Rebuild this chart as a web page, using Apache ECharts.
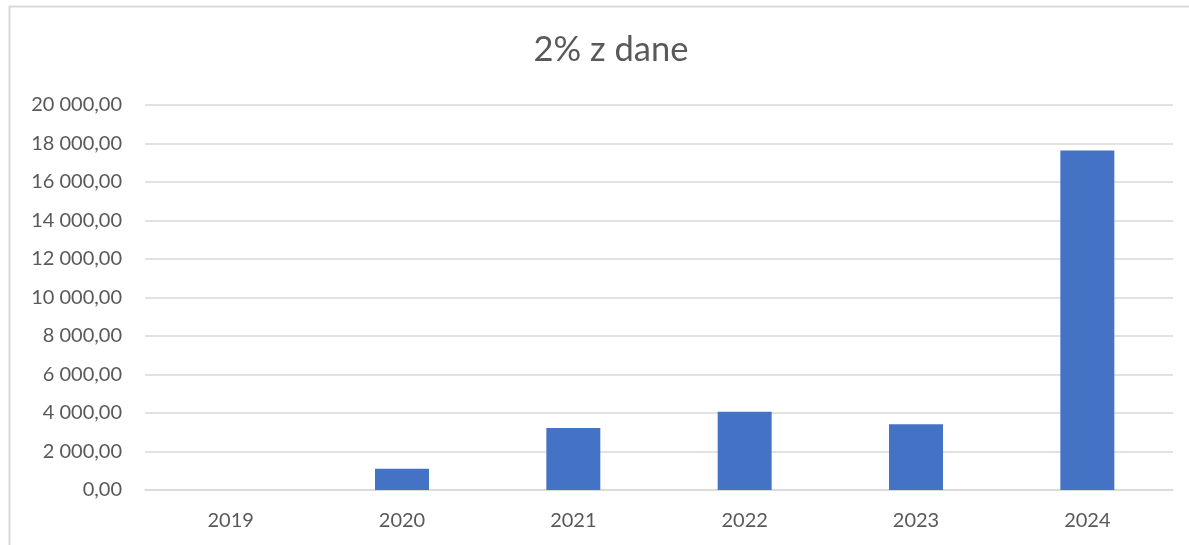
<!DOCTYPE html>
<html>
<head>
<meta charset="utf-8">
<script src="https://cdn.jsdelivr.net/npm/echarts@6/dist/echarts.min.js"></script>
<style>
  html, body { margin: 0; padding: 0; background: #fff; }
  #chart { width: 1189px; height: 545px; }
</style>
</head>
<body>
<div id="chart"></div>
<script>
const years = ['2019', '2020', '2021', '2022', '2023', '2024'];
const amounts = [0, 1110, 3220, 4070, 3410, 17630];
const yTicks = [0, 2000, 4000, 6000, 8000, 10000, 12000, 14000, 16000, 18000, 20000];

const fmt = function (v) {
    let s = Math.round(v).toString().replace(/\B(?=(\d{3})+(?!\d))/g, ' ');
    return s + ',00';
};

const chart = echarts.init(document.getElementById('chart'));
const option = {
    animation: false,
    textStyle: { fontFamily: 'Lato, "Open Sans", sans-serif' },
    graphic: [{
        type: 'rect',
        shape: { x: 9.5, y: 6.5, width: 1300, height: 700 },
        style: { fill: 'none', stroke: '#d9d9d9', lineWidth: 2 },
        silent: true
    }],
    title: {
        text: '2% z dane',
        left: 606,
        textAlign: 'center',
        top: 27,
        textStyle: { color: '#595959', fontSize: 34.5, fontWeight: 'normal', fontFamily: 'Lato, sans-serif' }
    },
    grid: { left: 145, right: 16, top: 105, bottom: 55 },
    xAxis: {
        type: 'category',
        data: years,
        axisTick: { show: false },
        axisLine: { lineStyle: { color: '#d9d9d9', width: 1.5 } },
        axisLabel: { color: '#595959', fontSize: 20, margin: 21 }
    },
    yAxis: {
        type: 'value',
        min: yTicks[0],
        max: yTicks[yTicks.length - 1],
        interval: 2000,
        axisLine: { show: false },
        axisTick: { show: false },
        splitLine: { lineStyle: { color: '#d9d9d9', width: 1.5 } },
        axisLabel: { color: '#595959', fontSize: 20, margin: 23, formatter: fmt }
    },
    series: [{
        type: 'bar',
        data: amounts,
        barWidth: '31.5%',
        itemStyle: { color: '#4472c4' }
    }]
};
chart.setOption(option);
</script>
</body>
</html>
